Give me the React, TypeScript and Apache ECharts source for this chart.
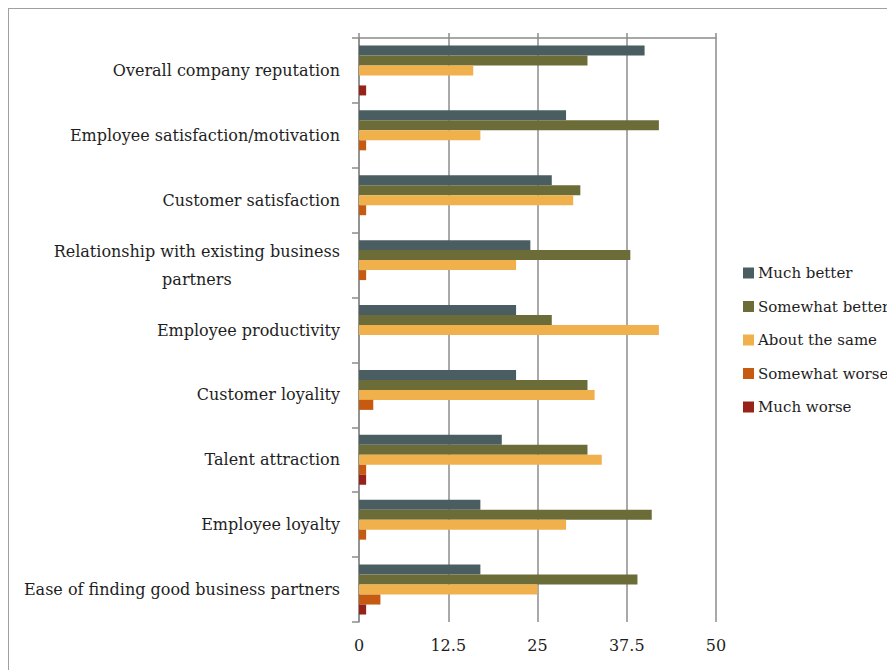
import React, { useEffect, useRef } from "react";
import * as echarts from "echarts";

const categories = [
  "Overall company reputation",
  "Employee satisfaction/motivation",
  "Customer satisfaction",
  "Relationship with existing business\npartners",
  "Employee productivity",
  "Customer loyality",
  "Talent attraction",
  "Employee loyalty",
  "Ease of finding good business partners",
];

const seriesNames = ["Much better", "Somewhat better", "About the same", "Somewhat worse", "Much worse"];

const muchBetter = [40, 29, 27, 24, 22, 22, 20, 17, 17];
const somewhatBetter = [32, 42, 31, 38, 27, 32, 32, 41, 39];
const aboutTheSame = [16, 17, 30, 22, 42, 33, 34, 29, 25];
const somewhatWorse = [0, 1, 1, 1, 0, 2, 1, 1, 3];
const muchWorse = [1, 0, 0, 0, 0, 0, 1, 0, 1];

const valueTicks = [0, 12.5, 25, 37.5, 50];

const colors = ["#4a5e61", "#6b6c38", "#f0b04c", "#c55a10", "#972318"];
const FONT = "DejaVu Serif";
const TEXT = "#1e1e1e";
const GRID = "#8c8c8c";

export default function App() {
  const ref = useRef<HTMLDivElement>(null);
  useEffect(() => {
    document.documentElement.style.overflow = "hidden";
    const chart = echarts.init(ref.current!, null, { renderer: "svg" });
    const values = [muchBetter, somewhatBetter, aboutTheSame, somewhatWorse, muchWorse];
    chart.setOption({
      animation: false,
      textStyle: { fontFamily: FONT },
      grid: { left: 350, top: 29, width: 357, height: 584 },
      legend: {
        orient: "vertical",
        left: 729,
        top: 251,
        itemWidth: 11,
        itemHeight: 11,
        itemGap: 17.5,
        icon: "rect",
        data: seriesNames,
        textStyle: { fontFamily: FONT, fontSize: 15, color: TEXT, lineHeight: 16, padding: [0, 0, 0, -1] },
      },
      xAxis: [
        {
          type: "value",
          position: "top",
          min: valueTicks[0],
          max: valueTicks[valueTicks.length - 1],
          interval: valueTicks[1] - valueTicks[0],
          axisLine: { show: true, lineStyle: { color: GRID, width: 1.5 } },
          axisTick: { show: true, length: 5, lineStyle: { color: GRID, width: 1.5 } },
          axisLabel: { show: false },
          splitLine: { show: true, lineStyle: { color: GRID, width: 1.5 } },
        },
        {
          type: "value",
          position: "bottom",
          min: valueTicks[0],
          max: valueTicks[valueTicks.length - 1],
          interval: valueTicks[1] - valueTicks[0],
          axisLine: { show: false },
          axisTick: { show: false },
          splitLine: { show: false },
          axisLabel: {
            margin: 15,
            fontFamily: FONT,
            fontSize: 16,
            color: TEXT,
            formatter: (v: number) => String(v),
          },
        },
      ],
      yAxis: {
        type: "category",
        inverse: true,
        data: categories,
        axisLine: { show: true, lineStyle: { color: GRID, width: 1.5 } },
        axisTick: { show: true, length: 7, lineStyle: { color: GRID, width: 1.5 } },
        axisLabel: {
          margin: 19,
          fontFamily: FONT,
          fontSize: 16,
          color: TEXT,
          lineHeight: 28,
          formatter: (v: string) => {
            const parts = v.split("\n");
            if (parts.length === 1) return v;
            return parts.map((p) => `{c|${p}}`).join("\n");
          },
          rich: {
            c: { align: "center", fontFamily: FONT, fontSize: 16, color: TEXT, lineHeight: 28 },
          },
        },
      },
      series: seriesNames.map((name, i) => ({
        name,
        type: "bar",
        xAxisIndex: 0,
        data: values[i],
        barGap: "0%",
        barCategoryGap: "23%",
        itemStyle: { color: colors[i] },
      })),
    });
    return () => chart.dispose();
  }, []);
  return (
    <div
      style={{
        width: 887,
        height: 662,
        borderLeft: "1px solid #a0a0a0",
        borderTop: "1px solid #a0a0a0",
        boxSizing: "border-box",
        overflow: "hidden",
      }}
    >
      <div ref={ref} style={{ width: 930, height: 661 }} />
    </div>
  );
}
